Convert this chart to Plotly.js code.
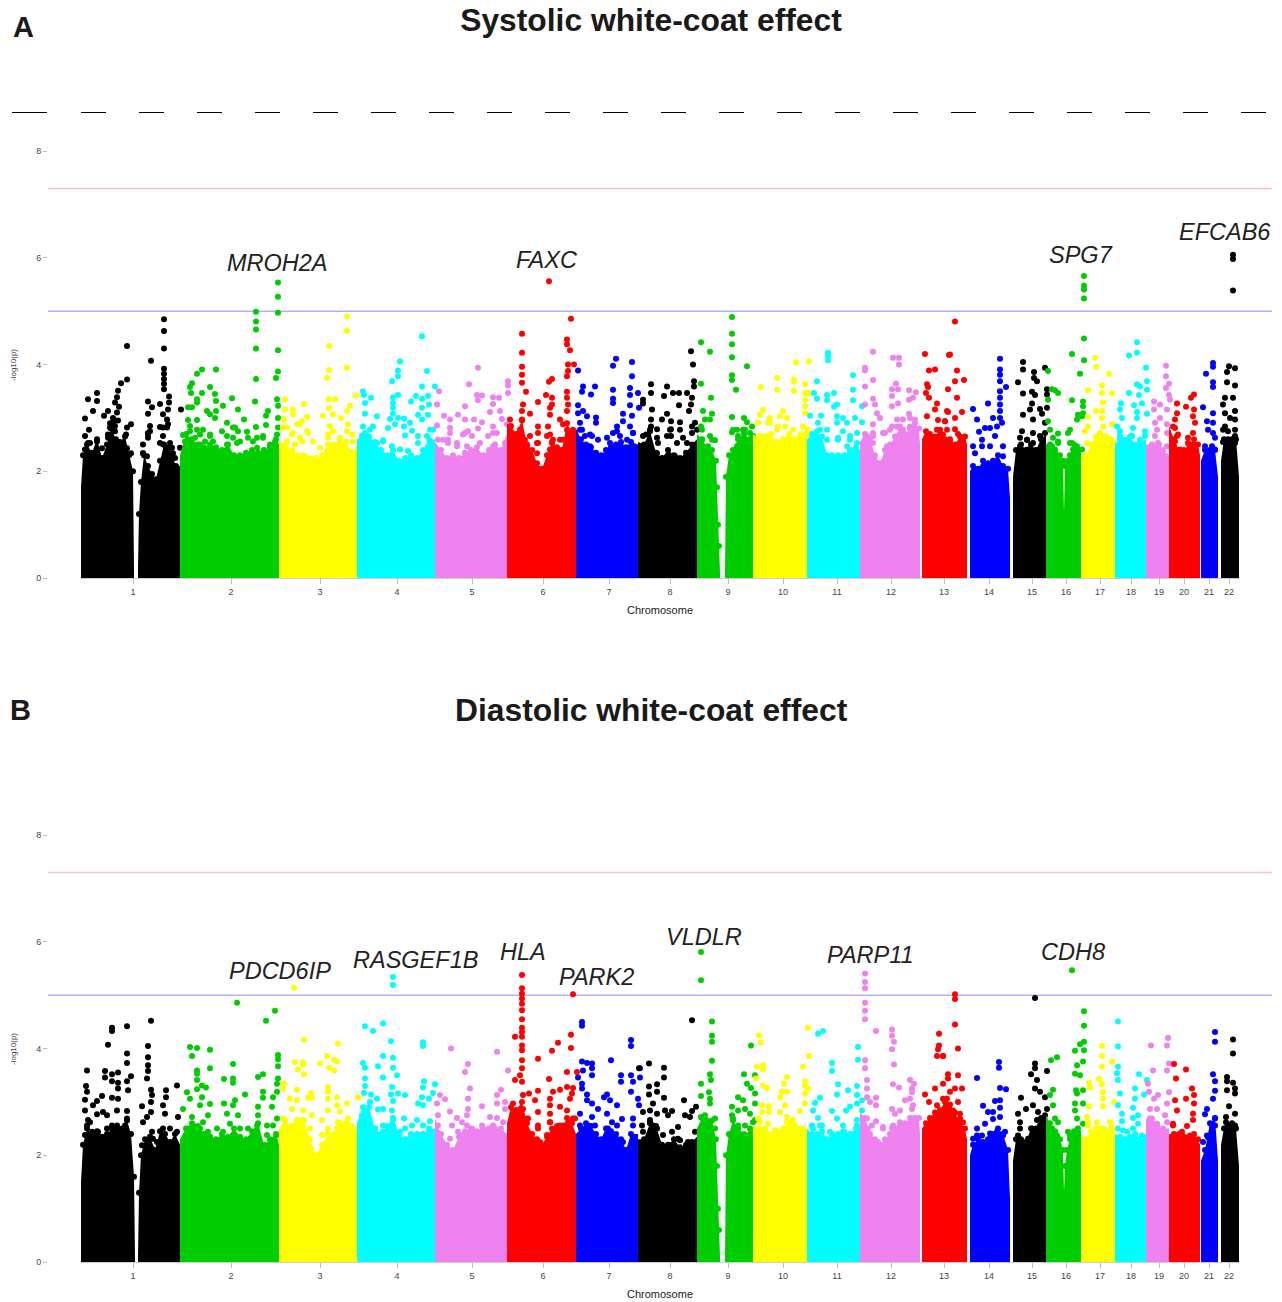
<!DOCTYPE html>
<html><head><meta charset="utf-8">
<script src="https://cdn.plot.ly/plotly-3.0.1.min.js"></script>
<style>html,body{margin:0;padding:0;background:#fff}#chart{width:1282px;height:1302px}</style>
</head><body><div id="chart"></div>
<script>
const chrLabels = ["1","2","3","4","5","6","7","8","9","10","11","12","13","14","15","16","17","18","19","20","21","22"];
const chrTicks = [133,231,320,397,472,543,609,670,728,783,837,891,944,989,1032,1066,1100,1131,1159,1184,1209,1229];
const palette = ["#000000","#00CD00","#FFFF00","#00FFFF","#EE82EE","#FF0000","#0000FF"];
// chromosome of each contiguous block of the solid mass (1 and 9 have a centromere gap)
const blockChr = [1,1,2,3,4,5,6,7,8,9,9,10,11,12,13,14,15,16,17,18,19,20,21,22];

// upper edge of the solid mass, flat position,-log10(p) pairs per block
const massA = [
[81,1.7,83,2.3,87,2.5,92,2.35,97,2.6,102,2.25,107,2.5,111,2.8,116,2.6,120,2.55,125,2.65,129,2.3,133,2.0,134,0.2],
[138,0.2,139,1.2,141,1.8,144,2.3,148,2.1,152,1.95,156,1.85,160,2.2,164,2.5,168,2.4,172,2.3,176,2.1,180,2.1],
[180,2.3,186,2.7,192,2.6,198,2.5,204,2.45,210,2.5,216,2.45,222,2.4,228,2.5,234,2.3,240,2.3,246,2.35,252,2.4,258,2.35,264,2.4,270,2.45,276,2.6,279,2.5],
[279,2.55,285,2.5,292,2.4,298,2.3,304,2.3,310,2.25,316,2.25,322,2.3,328,2.5,334,2.5,340,2.6,346,2.55,352,2.35,357,2.5],
[357,2.6,363,2.65,369,2.65,375,2.55,381,2.4,387,2.3,393,2.4,399,2.2,405,2.25,411,2.3,417,2.25,423,2.4,429,2.6,435,2.6],
[435,2.55,441,2.4,447,2.25,453,2.3,459,2.25,465,2.35,471,2.4,477,2.45,483,2.3,489,2.4,495,2.5,501,2.4,507,2.7],
[507,2.9,511,2.85,516,2.7,522,2.95,527,2.5,532,2.4,537,2.15,542,2.05,547,2.3,552,2.55,557,2.45,562,2.4,567,2.9,572,2.7,576,2.7],
[576,2.8,581,2.6,586,2.5,591,2.45,596,2.35,601,2.3,606,2.4,611,2.45,616,2.5,621,2.55,626,2.45,631,2.55,638,2.5],
[638,2.55,644,2.5,650,2.75,656,2.35,662,2.25,668,2.4,674,2.3,680,2.25,686,2.35,692,2.5,697,2.6],
[697,2.7,702,2.6,707,2.45,712,2.4,716,2.2,717,1.7,718,1.0,719,0.6,720,0.1],
[725,0.1,726,1.9,729,2.3,733,2.4,738,2.6,744,2.7,750,2.6,753,2.6],
[753,2.7,759,2.6,765,2.65,771,2.7,777,2.55,783,2.6,789,2.7,795,2.6,801,2.7,807,2.7],
[807,2.6,812,2.7,817,2.75,822,2.65,827,2.3,832,2.3,838,2.3,844,2.3,850,2.4,856,2.45,860,2.4],
[860,2.55,865,2.7,870,2.6,875,2.3,880,2.15,885,2.4,890,2.5,895,2.65,900,2.8,905,2.7,910,2.8,915,2.9,919,2.8,920,2.5],
[922,2.6,926,2.75,930,2.7,935,2.65,940,2.7,945,2.6,950,2.55,955,2.5,960,2.65,965,2.65,967,2.5],
[970,2.0,973,2.1,978,2.05,983,2.2,988,2.15,993,2.2,998,2.3,1003,2.1,1008,2.05,1010,1.5],
[1013,1.9,1016,2.4,1021,2.5,1026,2.4,1031,2.5,1036,2.4,1041,2.6,1046,2.7],
[1046,2.5,1050,2.5,1055,2.35,1060,2.3,1063,2.2,1064,1.2,1065,2.1,1068,2.2,1070,2.3,1074,2.5,1078,2.4,1081,2.4],
[1081,2.3,1086,2.3,1091,2.5,1096,2.65,1101,2.6,1106,2.65,1111,2.6,1115,2.4],
[1115,2.5,1120,2.6,1125,2.55,1130,2.65,1135,2.5,1140,2.55,1146,2.6],
[1146,2.5,1152,2.5,1158,2.45,1163,2.4,1169,2.3],
[1169,2.85,1174,2.6,1179,2.4,1184,2.4,1189,2.5,1194,2.6,1198,2.5,1200,2.3],
[1201,2.2,1205,2.4,1210,2.4,1215,2.4,1218,1.9],
[1221,2.2,1224,2.6,1228,2.6,1232,2.6,1236,2.6,1239,1.9]
];
const massB = [
[81,1.5,83,2.2,87,2.5,92,2.4,97,2.45,102,2.35,107,2.4,112,2.5,117,2.5,122,2.5,127,2.65,131,2.4,134,1.6,135,0.1],
[138,0.1,139,1.3,141,2.0,145,2.3,150,2.35,155,2.1,160,2.45,165,2.4,170,2.25,175,2.4,180,2.2],
[180,2.3,186,2.5,192,2.6,198,2.55,204,2.4,210,2.35,216,2.3,222,2.4,228,2.35,234,2.5,240,2.35,246,2.3,252,2.45,258,2.6,264,2.2,270,2.3,276,2.4,279,2.2],
[279,2.5,285,2.65,292,2.55,298,2.6,304,2.65,310,2.3,316,2.0,322,2.2,328,2.4,334,2.4,340,2.6,346,2.6,352,2.55,357,2.5],
[357,2.6,363,2.9,369,2.9,375,2.5,381,2.4,387,2.55,393,2.7,399,2.4,405,2.3,411,2.4,417,2.4,423,2.4,429,2.5,435,2.5],
[435,2.7,441,2.4,447,2.2,453,2.1,459,2.35,465,2.45,471,2.5,477,2.45,483,2.5,489,2.5,495,2.5,501,2.5,507,2.4],
[507,2.6,511,2.9,516,2.85,522,3.0,527,2.6,532,2.4,537,2.3,542,2.2,547,2.35,552,2.5,557,2.55,562,2.5,567,2.7,572,2.6,576,2.4],
[576,2.4,581,2.5,586,2.6,591,2.55,596,2.4,601,2.3,606,2.5,611,2.45,616,2.4,621,2.3,626,2.1,631,2.4,638,2.4],
[638,2.3,644,2.3,650,2.6,656,2.55,662,2.2,668,2.2,674,2.3,680,2.15,686,2.2,692,2.25,697,2.35],
[697,2.5,702,2.7,707,2.65,712,2.65,716,2.3,717,1.8,718,1.0,719,0.6,720,0.1],
[725,0.1,726,2.0,729,2.4,733,2.65,738,2.5,744,2.4,750,2.4,753,2.5],
[753,2.55,759,2.5,765,2.5,771,2.4,777,2.45,783,2.5,789,2.6,795,2.5,801,2.5,807,2.5],
[807,2.5,812,2.4,817,2.4,822,2.45,827,2.3,832,2.4,838,2.4,844,2.45,850,2.4,856,2.5,860,2.6],
[860,2.8,865,2.7,870,2.4,875,2.3,880,2.2,885,2.3,890,2.4,895,2.5,900,2.55,905,2.6,910,2.7,915,2.7,919,2.7,920,2.4],
[922,2.5,926,2.6,930,2.7,935,2.8,940,2.85,945,3.0,950,2.95,955,2.8,960,2.6,965,2.5,967,2.3],
[970,2.0,973,2.2,978,2.3,983,2.2,988,2.3,993,2.4,998,2.5,1003,2.4,1008,2.1,1010,1.2],
[1013,1.9,1016,2.3,1021,2.3,1026,2.25,1031,2.5,1036,2.5,1041,2.7,1046,2.8],
[1046,2.75,1050,2.6,1055,2.45,1060,2.3,1063,2.1,1064,1.3,1065,1.8,1067,2.1,1070,2.3,1074,2.45,1078,2.5,1081,2.45],
[1081,2.4,1086,2.3,1091,2.45,1096,2.5,1101,2.5,1106,2.45,1111,2.6,1115,2.4],
[1115,2.4,1120,2.35,1125,2.3,1130,2.35,1135,2.4,1140,2.3,1146,2.4],
[1146,2.7,1152,2.6,1158,2.5,1163,2.5,1169,2.5],
[1169,2.4,1174,2.4,1179,2.4,1184,2.35,1189,2.35,1194,2.4,1198,2.3,1200,2.2],
[1201,1.9,1205,2.1,1210,2.6,1215,2.7,1218,1.9],
[1221,2.2,1224,2.5,1228,2.55,1232,2.6,1236,2.5,1239,1.8]
];

// SNPs of the crowded band just above the mass, flat position,-log10(p) pairs per chromosome
const bandA = [
[85,2.41,90,2.53,97,2.34,102,2.43,108,2.63,112,2.56,117,2.5,122,2.5,127,2.43,131,2.34,87,2.25,95,2.28,107,2.28,115,2.34,125,2.28,110,2.9,115,2.85,113,3.0,118,2.95,148,2.69,150,2.75,143,2.34,147,2.28,163,2.5,168,2.44,173,2.34,160,2.53,167,2.82,163,2.82,172,2.44,175,2.25,170,2.18],
[190,2.75,195,2.63,200,2.69,205,2.56,210,2.66,213,2.56,222,2.75,227,2.66,233,2.82,238,2.75,240,2.56,248,2.63,253,2.56,263,2.63,270,2.5,275,2.56,185,2.56,200,2.5,227,2.5,237,2.53,257,2.44],
[287,2.82,293,2.72,300,2.88,307,2.75,313,2.56,328,2.63,333,2.75,340,2.63,347,2.75,353,2.56,357,2.37,287,2.56,295,2.5,302,2.56,320,2.44],
[362,2.66,370,2.78,377,2.53,383,2.56,392,2.47,400,2.41,408,2.38,418,2.53,427,2.66,433,2.78,372,2.53,365,2.41],
[438,2.59,448,2.53,457,2.47,465,2.72,472,2.66,480,2.53,488,2.66,497,2.72,505,2.53,467,2.47,493,2.47,450,2.72],
[510,2.78,515,2.66,520,2.72,525,2.59,538,2.53,537,2.34,547,2.66,553,2.59,560,2.59,570,2.72,575,2.72,550,2.41,563,2.41,518,2.47,527,2.47],
[580,2.78,585,2.66,592,2.66,598,2.59,613,2.72,620,2.66,627,2.59,633,2.72,590,2.47,610,2.53,583,2.47],
[643,2.66,650,2.78,650,2.53,658,2.53,667,2.66,670,2.78,677,2.53,687,2.53,692,2.72,697,2.78,657,2.34,675,2.28],
[702,2.78,702,2.59,708,2.47,712,2.59,707,2.34,733,2.78,738,2.66,745,2.78,750,2.72,737,2.47,747,2.53,753,2.66,755,2.28],
[760,2.66,768,2.91,768,2.66,777,2.78,785,2.84,793,2.78,800,2.66,807,2.72,777,2.47],
[813,2.66,820,2.78,827,2.59,838,2.59,847,2.47,850,2.59,857,2.53],
[867,2.66,873,2.53,883,2.72,890,2.78,897,2.84,903,2.78,910,2.84,915,2.78,873,2.66,887,2.47,900,2.59],
[927,2.66,937,2.78,940,2.66,947,2.78,950,2.6,958,2.7],
[],
[1020,2.47,1027,2.59,1033,2.53,1040,2.66,1043,2.53,1020,2.28,1038,2.34,1028,2.41],
[1052,2.47,1055,2.41,1058,2.53,1070,2.53,1073,2.41,1077,2.47,1082,2.41],
[1087,2.53,1097,2.59,1103,2.66,1110,2.59,1113,2.53,1100,2.53],
[1120,2.66,1125,2.59,1132,2.66,1140,2.59,1145,2.66,1137,2.47],
[1153,2.47,1158,2.53,1167,2.47],
[1173,2.84,1177,2.66,1180,2.41,1188,2.53,1193,2.47],
[1205,2.47,1212,2.47,1215,2.41],
[1223,2.55,1230,2.55,1235,2.53,1223,2.78,1235,2.66]
];
const bandB = [
[87,2.56,92,2.44,98,2.44,107,2.5,112,2.56,117,2.56,125,2.56,85,2.38,90,2.62,143,2.62,152,2.44,157,2.25,163,2.5,170,2.5,177,2.44,153,2.31,142,2.19],
[187,2.5,193,2.56,200,2.5,208,2.44,217,2.5,223,2.44,230,2.59,240,2.5,248,2.5,257,2.56,233,2.28,227,2.25,207,2.34,267,2.38,273,2.56,277,2.38],
[285,2.66,293,2.56,302,2.66,310,2.5,322,2.38,328,2.5,337,2.5,347,2.59,353,2.5,307,2.25,297,2.38],
[362,2.75,367,2.62,375,2.5,383,2.44,393,2.56,400,2.44,412,2.31,420,2.38,430,2.44,370,2.5,392,2.38],
[438,2.56,450,2.31,458,2.44,467,2.56,475,2.44,483,2.5,493,2.56,503,2.62,487,2.38,463,2.38],
[512,2.75,517,2.62,527,2.69,538,2.5,550,2.62,560,2.56,570,2.62,575,2.69,547,2.38,540,2.25,530,2.38,563,2.38],
[580,2.56,587,2.5,595,2.56,608,2.5,617,2.56,633,2.56,583,2.34,610,2.31,623,2.25],
[643,2.44,650,2.66,653,2.56,663,2.38,678,2.31,688,2.25,695,2.44,670,2.19],
[702,2.56,710,2.62,715,2.5,707,2.38,733,2.69,738,2.56,745,2.56,750,2.5,753,2.62,730,2.38],
[760,2.62,768,2.59,775,2.47,787,2.62,795,2.56,803,2.5,783,2.31],
[813,2.5,820,2.56,830,2.44,843,2.44,857,2.56,837,2.25,850,2.25],
[867,2.69,872,2.56,883,2.5,893,2.56,903,2.56,913,2.69,878,2.25,897,2.38],
[930,2.56,935,2.69,942,2.69,948,2.75,945,2.56,947,3.06,953,2.84,960,2.69,945,2.75],
[977,2.37,983,2.25,990,2.31,997,2.44,1003,2.37],
[1018,2.37,1028,2.31,1035,2.44,1040,2.56,1045,2.75,1023,2.19],
[1052,2.5,1057,2.37,1070,2.37,1075,2.44,1080,2.31,1055,2.19],
[1088,2.56,1097,2.5,1103,2.5,1112,2.5],
[1118,2.5,1127,2.44,1133,2.5,1142,2.37],
[1150,2.69,1157,2.56,1167,2.62,1160,2.37],
[1173,2.56,1182,2.44,1190,2.37],
[1207,2.37,1212,2.5,1215,2.56],
[1225,2.5,1233,2.5,1230,2.37]
];

// individual SNPs above the mass, flat position,-log10(p) pairs per chromosome
const snpsA = [
[127,4.35,127,3.72,121,3.65,88,3.35,97,3.47,97,3.32,118,3.51,117,3.39,115,3.29,119,3.21,117,3.10,93,3.13,85,2.99,108,3.13,104,3.04,113,2.91,110,2.82,89,2.78,85,2.66,131,2.88,127,2.82,115,2.75,108,2.69,126,2.69,97,2.56,88,2.53,117,2.56,151,4.07,164,4.85,164,4.63,164,4.30,164,3.92,164,3.83,164,3.73,164,3.64,164,3.54,169,3.40,148,3.31,160,3.26,169,3.29,152,3.20,148,3.08,168,3.16,181,3.16,163,3.07,167,2.97,150,2.85,160,2.83,168,2.88,148,2.72,148,2.63,163,2.66,143,2.5,170,2.53,180,2.44,143,2.34],
[202,3.91,197,3.83,216,3.91,192,3.65,190,3.58,191,3.47,210,3.58,202,3.47,215,3.45,197,3.35,197,3.29,232,3.37,216,3.32,223,3.23,188,3.2,192,3.2,238,3.16,207,3.13,210,3.07,216,3.13,215,3.0,244,2.97,188,2.96,197,2.96,190,2.85,197,2.78,183,2.68,203,2.78,210,2.69,227,2.91,235,2.82,247,2.74,256,2.83,266,3.04,268,3.13,266,2.87,263,2.66,255,3.31,256,3.73,256,4.3,256,4.66,256,4.81,256,4.99,278,5.54,278,5.27,278,4.97,278,4.27,278,3.87,276,3.75,277,3.35,278,3.23,278,3.0,278,2.82,277,2.69,257,2.63,233,2.63],
[285,3.35,285,3.16,293,3.16,304,3.26,293,3.07,284,2.97,302,2.94,307,3.02,297,2.88,292,2.69,308,2.72,283,2.82,300,2.63,323,3.04,329,4.35,329,3.9,327,3.75,329,3.35,335,3.35,329,3.18,333,3.07,341,3.0,347,4.9,347,4.63,347,3.94,356,3.42,350,3.23,347,3.13,330,2.85,328,2.69,348,2.88,352,2.69],
[422,4.53,400,4.06,398,3.89,398,3.78,392,3.69,427,3.88,422,3.59,435,3.59,363,3.5,364,3.43,371,3.38,393,3.39,398,3.43,393,3.28,416,3.41,422,3.36,428,3.41,411,3.31,429,3.25,365,3.28,393,3.19,365,3.08,377,3.03,393,3.08,422,3.19,418,3.06,390,2.98,398,3.0,404,2.99,428,3.06,422,2.97,410,2.91,395,2.88,404,2.84,388,2.81,373,2.84,363,2.84,430,2.78,412,2.76,418,2.66,405,2.67,383,2.58,365,2.72],
[478,3.94,469,3.63,508,3.69,508,3.61,508,3.47,439,3.5,477,3.43,482,3.42,493,3.39,499,3.38,478,3.33,493,3.26,437,3.25,465,3.22,490,3.11,500,3.13,444,3.04,458,3.06,450,2.97,465,2.97,474,2.97,502,2.98,437,2.86,450,2.81,482,2.92,493,2.84,507,2.88,468,2.75,478,2.8,463,2.69,493,2.72,443,2.59,457,2.53,448,2.59],
[549,5.56,571,4.86,522,4.58,522,4.22,522,3.96,567,4.47,567,4.38,570,4.27,522,3.81,522,3.66,552,3.73,549,3.68,568,4.0,574,4.0,568,3.88,567,3.78,526,3.49,546,3.43,567,3.49,567,3.38,552,3.38,538,3.3,552,3.25,523,3.25,568,3.25,550,3.19,522,3.13,530,3.08,550,3.06,567,3.13,510,2.97,522,2.97,560,2.97,538,2.84,548,2.84,563,2.88,520,2.78,530,2.66,538,2.72,550,2.69,567,2.78,573,2.78,537,2.53,552,2.53,563,2.59],
[616,4.11,613,3.98,632,4.05,578,3.89,632,3.78,583,3.59,595,3.59,613,3.53,630,3.56,582,3.49,591,3.44,630,3.43,638,3.47,613,3.36,613,3.28,630,3.24,578,3.24,583,3.13,578,3.09,639,3.19,587,3.03,596,3.01,623,3.08,623,2.94,632,3.04,596,2.91,580,2.91,617,2.84,630,2.84,582,2.78,590,2.69,617,2.75,633,2.72,607,2.63],
[691,4.25,693,4.0,694,3.69,694,3.59,651,3.63,651,3.47,667,3.59,664,3.41,673,3.47,679,3.47,687,3.47,692,3.38,643,3.34,643,3.27,679,3.24,691,3.25,689,3.13,652,3.16,667,3.08,662,2.97,671,2.94,651,2.97,680,2.92,692,2.84,695,2.91,671,2.79,657,2.79,680,2.78,651,2.84,646,2.69,657,2.63,671,2.66,683,2.63],
[701,4.42,710,4.24,701,3.64,711,3.38,703,3.13,712,3.08,710,2.97,701,2.84,705,2.97,710,2.66,715,2.58,732,4.89,732,4.58,732,4.38,732,4.14,747,3.97,732,3.8,732,3.71,736,3.53,732,3.02,744,3.0,747,2.92,752,2.84,737,2.78,743,2.78,732,2.73],
[796,4.04,809,4.06,777,3.75,794,3.72,794,3.68,761,3.58,777,3.53,794,3.51,805,3.63,805,3.47,808,3.47,805,3.34,805,3.22,763,3.16,760,3.06,805,3.09,783,3.13,780,3.03,787,3.0,770,3.0,758,2.91,770,2.91,778,2.84,760,2.66,803,2.84,808,2.78],
[828,4.22,828,4.16,828,4.08,853,3.8,817,3.69,853,3.53,814,3.47,817,3.36,827,3.43,834,3.47,827,3.33,853,3.33,837,3.25,834,3.21,862,3.22,810,3.04,821,3.04,837,3.03,843,3.0,855,3.0,818,2.91,837,2.91,847,2.91,862,2.92,827,2.78,843,2.75,857,2.72,838,2.63,850,2.66],
[873,4.24,893,4.13,899,4.13,899,4.0,865,3.94,865,3.89,873,3.71,896,3.64,865,3.59,892,3.54,898,3.54,909,3.52,916,3.48,892,3.41,873,3.36,913,3.38,909,3.34,865,3.25,875,3.25,892,3.22,898,3.27,877,3.09,909,3.08,880,3.0,873,2.88,897,2.97,910,3.0,903,2.97,915,2.97,892,2.84,885,2.72,873,2.72,900,2.84],
[925,4.2,949,4.18,935,3.91,929,3.89,927,3.63,928,3.58,926,3.47,929,3.38,937,3.27,935,3.16,947,3.13,927,3.03,938,2.96,945,2.94,955,4.81,950,4.19,957,3.89,964,3.71,955,3.69,948,3.54,957,3.38,948,3.11,962,3.11,955,3.0,945,2.94,955,2.79,940,2.78,943,2.69,963,2.63],
[1000,4.11,1000,3.91,1000,3.81,1006,3.58,1000,3.69,1000,3.5,973,3.17,988,3.27,1000,3.38,1000,3.25,1000,3.13,977,2.97,993,3.0,1000,3.0,985,2.81,990,2.81,997,2.84,1002,2.91,979,2.74,995,2.66,982,2.59,973,2.47,982,2.47,990,2.47,975,2.34,1003,2.47,1003,2.28],
[1023,4.05,1023,3.91,1018,3.67,1034,3.86,1034,3.75,1037,3.69,1045,3.94,1023,3.46,1032,3.49,1035,3.43,1047,3.54,1047,3.44,1032,3.27,1030,3.16,1040,3.17,1047,3.19,1023,3.06,1042,3.08,1033,2.97,1022,2.75,1045,2.91,1033,2.72,1020,2.63,1045,2.72,1027,2.59],
[1048,3.88,1052,3.54,1055,3.52,1058,3.47,1048,3.34,1048,2.94,1050,2.78,1058,2.71,1053,2.63,1058,2.56,1072,4.2,1080,3.83,1072,3.33,1084,5.66,1084,5.48,1084,5.41,1084,5.24,1084,4.49,1084,4.08,1083,3.31,1083,3.22,1083,3.09,1078,3.06,1077,2.97,1070,2.78,1068,2.72,1072,2.53,1082,3.03],
[1095,4.13,1096,3.96,1109,3.83,1088,3.52,1102,3.61,1102,3.47,1112,3.47,1103,3.29,1096,3.13,1102,3.13,1088,3.02,1102,3.0,1088,2.84,1112,2.88,1103,2.84,1085,2.75,1100,2.72],
[1137,4.42,1129,4.17,1137,4.22,1146,3.94,1137,3.63,1140,3.59,1147,3.69,1147,3.53,1129,3.47,1139,3.43,1121,3.27,1142,3.27,1134,3.24,1120,3.16,1122,3.0,1137,3.11,1147,3.08,1137,3.0,1117,2.84,1133,2.81,1120,2.75,1145,2.75,1132,2.66],
[1166,3.98,1166,3.78,1169,3.64,1166,3.56,1169,3.43,1170,3.34,1154,3.31,1160,3.25,1154,3.16,1167,3.16,1160,3.0,1155,2.91,1167,2.88,1157,2.78,1167,2.72,1155,2.66,1159,2.5],
[1194,3.44,1191,3.38,1177,3.27,1186,3.21,1194,3.16,1193,3.03,1177,3.09,1195,2.91,1175,2.97,1175,2.81,1193,2.72,1178,2.69,1188,2.63,1175,2.56],
[1213,4.03,1213,3.96,1206,3.83,1213,3.67,1213,3.58,1203,3.2,1213,3.09,1207,2.94,1213,2.91,1208,2.78,1213,2.72,1215,2.63],
[1233,6.06,1233,5.98,1233,5.39,1229,3.97,1235,3.93,1227,3.86,1227,3.67,1235,3.61,1233,3.38,1225,3.38,1223,3.25,1235,3.13,1225,3.09,1230,3.0,1235,2.97,1225,2.84,1235,2.78,1228,2.75]
];
const snpsB = [
[127,4.42,112,4.39,112,4.33,151,4.52,148,4.05,108,4.07,127,3.91,148,3.84,127,3.73,148,3.69,148,3.58,87,3.59,105,3.58,105,3.46,118,3.55,112,3.52,131,3.48,147,3.44,112,3.39,127,3.39,118,3.36,86,3.3,87,3.19,118,3.25,128,3.22,151,3.23,166,3.22,177,3.31,152,3.13,166,3.09,102,3.11,85,3.04,112,3.08,118,3.06,97,3.02,93,2.94,142,2.92,151,3.0,163,2.94,85,2.84,127,2.83,103,2.81,117,2.84,151,2.81,165,2.78,178,2.72,107,2.75,147,2.72,97,2.77,88,2.66,127,2.69],
[190,4.03,197,4.01,210,3.98,192,3.86,237,4.86,275,4.71,266,4.52,278,3.88,278,3.8,233,3.71,278,3.67,210,3.63,197,3.59,197,3.53,263,3.52,258,3.47,233,3.44,278,3.44,224,3.43,197,3.41,233,3.36,277,3.34,202,3.31,206,3.27,197,3.24,187,3.18,263,3.19,245,3.14,277,3.19,202,3.09,190,3.06,263,3.08,273,3.09,235,3.03,224,2.97,210,2.96,233,2.94,258,2.91,272,2.91,183,2.87,200,2.94,238,2.75,227,2.78,208,2.75,192,2.72,258,2.75,203,2.62,277,2.69,267,2.56],
[294,5.14,304,4.17,338,4.09,327,3.86,295,3.75,303,3.75,303,3.7,334,3.79,337,3.76,320,3.72,329,3.64,334,3.59,298,3.61,304,3.52,284,3.34,283,3.25,328,3.28,297,3.23,311,3.17,328,3.19,290,3.06,297,3.03,308,3.08,312,3.08,337,3.09,328,3.06,292,2.87,303,2.84,358,3.09,347,2.97,337,2.94,340,2.82,328,2.84,312,2.75,283,2.69,322,2.66,348,2.69,297,2.66,338,2.62],
[393,5.34,393,5.19,365,4.42,373,4.33,383,4.47,391,4.14,423,4.12,423,4.05,363,3.73,365,3.64,378,3.67,383,3.86,393,3.83,393,3.64,397,3.5,383,3.46,424,3.39,365,3.44,365,3.3,392,3.28,435,3.33,423,3.27,364,3.17,371,3.14,391,3.14,398,3.16,405,3.13,433,3.17,422,3.09,377,3.06,429,3.06,370,3.0,393,3.02,418,2.97,423,2.94,378,2.86,383,2.87,392,2.84,393,2.66,404,2.69,417,2.66,430,2.64,383,2.56,412,2.56,423,2.56,405,2.5],
[451,4.0,497,3.94,468,3.71,465,3.56,508,3.59,470,3.25,501,3.23,497,3.13,440,3.13,445,3.05,437,2.97,497,2.97,505,3.0,482,2.92,468,3.06,468,2.87,450,2.82,505,2.87,438,2.75,467,2.75,457,2.7,490,2.72,497,2.7,482,2.56,462,2.62,452,2.56,472,2.5],
[522,5.38,522,5.13,522,5.03,522,4.94,522,4.84,522,4.72,522,4.55,522,4.39,522,4.31,522,4.22,515,4.22,571,4.26,558,4.11,522,4.06,522,3.97,552,3.96,571,4.01,538,3.81,522,3.78,522,3.63,567,3.56,577,3.56,520,3.5,549,3.43,515,3.41,522,3.38,573,3.26,560,3.23,567,3.28,538,3.21,553,3.19,529,3.16,572,3.16,523,3.13,535,3.03,550,3.06,570,3.06,513,2.97,523,2.87,550,2.94,560,2.91,538,2.81,550,2.78,567,2.84,528,2.69,573,2.69,538,2.56,563,2.56,550,2.62,573,5.02],
[582,4.5,582,4.43,631,4.16,631,4.05,611,3.78,582,3.76,587,3.73,592,3.72,592,3.63,592,3.5,583,3.59,640,3.63,621,3.5,631,3.5,640,3.46,621,3.38,578,3.46,582,3.34,633,3.38,582,3.25,631,3.19,587,3.14,607,3.14,604,3.09,638,3.06,610,3.03,587,3.03,592,2.97,639,2.94,617,2.94,598,2.87,607,2.78,633,2.69,580,2.78,592,2.72,622,2.68,612,2.62,588,2.56],
[692,4.53,649,3.72,664,3.64,639,3.63,664,3.46,657,3.33,649,3.29,657,3.19,649,3.14,664,3.08,684,3.03,653,2.97,696,2.91,692,2.83,672,2.83,643,2.81,665,2.84,650,2.84,668,2.75,657,2.78,690,2.72,685,2.75,678,2.53,680,2.28,672,2.44,657,2.5,650,2.62,642,2.56],
[701,5.81,701,5.28,712,4.51,712,4.24,712,4.13,712,3.77,710,3.52,711,3.41,701,3.34,709,3.18,701,3.11,710,3.06,710,2.97,701,2.72,715,2.69,705,2.75,751,4.06,744,3.52,755,3.5,747,3.34,751,3.26,755,3.16,738,3.09,743,3.03,755,2.97,732,2.91,745,2.87,738,2.84,750,2.78,732,2.75,755,2.66],
[759,4.25,761,4.12,808,4.39,809,3.86,803,3.66,757,3.66,763,3.69,763,3.61,787,3.47,756,3.44,805,3.39,784,3.34,763,3.31,767,3.26,805,3.31,808,3.25,782,3.19,787,3.19,805,3.16,780,3.09,762,2.94,769,2.92,785,2.94,805,2.97,780,2.81,800,2.83,762,2.81,769,2.81,758,2.69,793,2.66,787,2.72],
[823,4.33,818,4.28,858,4.03,858,3.79,832,3.73,832,3.58,838,3.33,857,3.3,848,3.22,837,3.14,857,3.13,820,3.08,862,3.03,815,2.98,857,2.97,850,2.91,813,2.84,846,2.84,832,2.83,862,2.84,818,2.7,837,2.69,857,2.66,812,2.56,822,2.56,843,2.56],
[865,5.41,865,5.25,865,5.13,865,4.86,865,4.71,865,4.55,876,4.33,892,4.36,892,4.24,894,4.13,892,3.99,894,3.7,865,3.78,865,3.63,867,3.41,893,3.33,910,3.41,914,3.34,899,3.27,912,3.25,912,3.18,867,3.25,867,3.09,876,3.08,910,3.06,905,3.03,870,3.0,876,2.94,913,2.94,892,2.87,912,2.87,900,2.84,895,2.78,876,2.64,900,2.62,883,2.53,892,2.5,868,2.5],
[939,4.28,939,4.06,938,3.99,937,3.86,943,3.86,955,5.02,955,4.93,955,4.45,958,4.0,943,3.86,948,3.52,958,3.5,925,3.14,935,3.25,929,3.0,937,2.94,943,3.06,948,3.44,955,3.25,962,3.25,950,3.19,943,3.34,958,3.0,960,2.78,963,2.62,948,2.94],
[999,3.75,999,3.64,977,3.45,1006,3.24,1000,3.26,1000,3.03,995,3.02,983,2.93,988,2.81,993,2.81,1000,2.89,985,2.59,993,2.68,977,2.5,1000,2.72,1005,2.44,973,2.31,982,2.37,990,2.41],
[1035,4.95,1035,3.72,1035,3.63,1031,3.52,1037,3.41,1047,3.58,1035,3.25,1040,3.19,1021,3.08,1045,3.09,1033,2.94,1026,2.87,1018,2.78,1038,2.81,1047,2.87,1020,2.62,1037,2.66,1020,2.5,1032,2.5,1045,2.56],
[1072,5.47,1084,4.7,1084,4.43,1057,3.84,1051,3.78,1084,4.13,1080,4.08,1075,3.96,1084,3.97,1083,3.76,1077,3.69,1075,3.53,1080,3.5,1053,3.23,1076,3.22,1083,3.22,1050,3.13,1077,3.16,1053,2.94,1075,2.97,1075,2.84,1083,2.97,1055,2.69,1077,2.69,1083,2.59,1068,2.44,1058,2.62],
[1102,4.05,1102,3.86,1112,3.76,1102,3.66,1099,3.43,1089,3.36,1090,3.27,1102,3.33,1103,3.18,1103,3.06,1103,2.92,1089,2.92,1114,3.0,1087,2.72,1097,2.62,1088,2.62,1110,2.62],
[1118,4.51,1118,4.04,1118,3.66,1117,3.54,1118,3.41,1139,3.52,1147,3.41,1135,3.25,1120,3.16,1144,3.14,1135,3.06,1118,2.94,1133,2.89,1122,2.78,1138,2.75,1133,2.7,1122,2.64,1138,2.59,1123,2.47],
[1151,4.06,1168,4.2,1167,4.06,1169,3.72,1167,3.59,1153,3.59,1148,3.34,1149,3.19,1169,3.18,1158,3.13,1154,3.06,1167,2.97,1150,2.87,1157,2.87,1165,2.75,1157,2.59,1152,2.69],
[1174,3.71,1186,3.61,1176,3.44,1192,3.25,1194,3.13,1175,3.03,1186,3.06,1194,2.97,1177,2.84,1193,2.78,1193,2.66,1187,2.55,1173,2.59],
[1215,4.31,1215,4.13,1213,3.52,1215,3.39,1215,3.21,1213,3.06,1207,2.87,1205,2.77,1215,2.69,1203,2.25,1208,2.34],
[1233,4.17,1233,3.91,1227,3.47,1227,3.39,1233,3.36,1235,3.25,1227,3.22,1235,3.16,1229,2.92,1235,2.78,1226,2.72,1226,2.62,1235,2.56]
];

const geneA = ["MROH2A","FAXC","SPG7","EFCAB6"];
const geneAPos = [277,547,1081,1225];
const geneAY = [5.9,5.96,6.05,6.49];
const geneB = ["PDCD6IP","RASGEF1B","HLA","PARK2","VLDLR","PARP11","CDH8"];
const geneBPos = [280,415,523,596,704,870,1073];
const geneBY = [5.45,5.66,5.81,5.34,6.09,5.75,5.81];
const suggestive = 5, genomeWide = 7.3;
const yTicks = [0,2,4,6,8];

const W = 1282, H = 1302, PXU = 53.35;
const xRange = [48,1272];
const evens = a => a.filter((_,i)=>i%2===0), odds = a => a.filter((_,i)=>i%2===1);
const colorOf = c => palette[(c-1)%7];
const traces = [];
function addPanel(mass, band, snps, xa, ya){
  [[suggestive,"#b0b0ff"],[genomeWide,"#fcc4c4"]].forEach(([v,c])=>{
    traces.push({x:xRange,y:[v,v],xaxis:xa,yaxis:ya,mode:"lines",line:{color:c,width:1.4},hoverinfo:"skip",showlegend:false});
  });
  chrLabels.forEach((_,i)=>{
    const c=i+1, col=colorOf(c);
    let mx=[],my=[];
    mass.forEach((m,b)=>{ if(blockChr[b]===c){
      const xs=evens(m), ys=odds(m);
      traces.push({x:xs,y:ys,xaxis:xa,yaxis:ya,mode:"lines",fill:"tozeroy",fillcolor:col,line:{width:0,color:col},hoverinfo:"skip",showlegend:false});
      mx=mx.concat(xs.slice(1,-1)); my=my.concat(ys.slice(1,-1));
    }});
    mx=mx.concat(evens(band[i]),evens(snps[i])); my=my.concat(odds(band[i]),odds(snps[i]));
    traces.push({x:mx,y:my,xaxis:xa,yaxis:ya,mode:"markers",marker:{color:col,size:6,line:{width:0}},hoverinfo:"skip",showlegend:false});
  });
}
addPanel(massA,bandA,snpsA,"x","y");
addPanel(massB,bandB,snpsB,"x2","y2");

function xAxis(anchor){return {domain:[48/W,1272/W],range:xRange,anchor:anchor,tickmode:"array",tickvals:chrTicks,ticktext:chrLabels,
  showgrid:false,zeroline:false,showline:false,ticks:"outside",ticklen:5,tickwidth:1,tickcolor:"#bbb",
  tickfont:{family:"Liberation Sans",size:9,color:"#444"},
  title:{text:"Chromosome",font:{family:"Liberation Sans",size:11,color:"#222"},standoff:10},automargin:false};}
function yAxis(anchor,topPx,botPx){return {domain:[1-botPx/H,1-topPx/H],range:[0,(botPx-topPx)/PXU],anchor:anchor,tickmode:"array",tickvals:yTicks,
  showgrid:false,zeroline:false,showline:false,ticks:"outside",ticklen:4,tickwidth:1,tickcolor:"#bbb",
  tickfont:{family:"Liberation Sans",size:9,color:"#444"},automargin:false};}

const ann=[];
function genes(names,pos,ys,xr,yr){names.forEach((t,i)=>ann.push({text:"<i>"+t+"</i>",x:pos[i],y:ys[i],xref:xr,yref:yr,showarrow:false,xanchor:"center",yanchor:"middle",
  font:{family:"Liberation Sans",size:23.5,color:"#222"}}));}
genes(geneA,geneAPos,geneAY,"x","y");
genes(geneB,geneBPos,geneBY,"x2","y2");
const big=(t,px,py,s)=>ann.push({text:"<b>"+t+"</b>",xref:"paper",yref:"paper",x:px/W,y:1-py/H,showarrow:false,xanchor:"center",yanchor:"middle",font:{family:"Liberation Sans",size:s,color:"#1a1a1a"}});
big("A",23,27,29); big("B",20,710,29); big("Diastolic white-coat effect",651,710,31.8);
const ylab=(py)=>ann.push({text:"-log10(p)",xref:"paper",yref:"paper",x:13/W,y:1-py/H,showarrow:false,textangle:-90,xanchor:"center",yanchor:"middle",font:{family:"Liberation Sans",size:8,color:"#444"}});
ylab(365); ylab(1049);

const shape=(x0,x1,y,col,dash,w)=>({type:"line",xref:"paper",yref:"paper",x0:x0/W,x1:x1/W,y0:1-y/H,y1:1-y/H,line:{color:col,width:w,dash:dash}});
const layout={width:W,height:H,margin:{l:0,r:0,t:0,b:0},paper_bgcolor:"#fff",plot_bgcolor:"#fff",showlegend:false,
  title:{text:"<b>Systolic white-coat effect</b>",x:651/W,xanchor:"center",y:1-20/H,yanchor:"middle",font:{family:"Liberation Sans",size:31.8,color:"#1a1a1a"}},
  xaxis:xAxis("y"),yaxis:yAxis("x",113,578),xaxis2:xAxis("y2"),yaxis2:yAxis("x2",800,1262),
  annotations:ann,
  shapes:[shape(81,1266,112.5,"#000","25px,33px",1.2),shape(12,47,112.5,"#000","solid",1.2),shape(81,1239,578.5,"#ccc","solid",1),shape(81,1239,1262.5,"#ccc","solid",1)]};
Plotly.newPlot("chart",traces,layout,{staticPlot:true,displayModeBar:false});
</script></body></html>
